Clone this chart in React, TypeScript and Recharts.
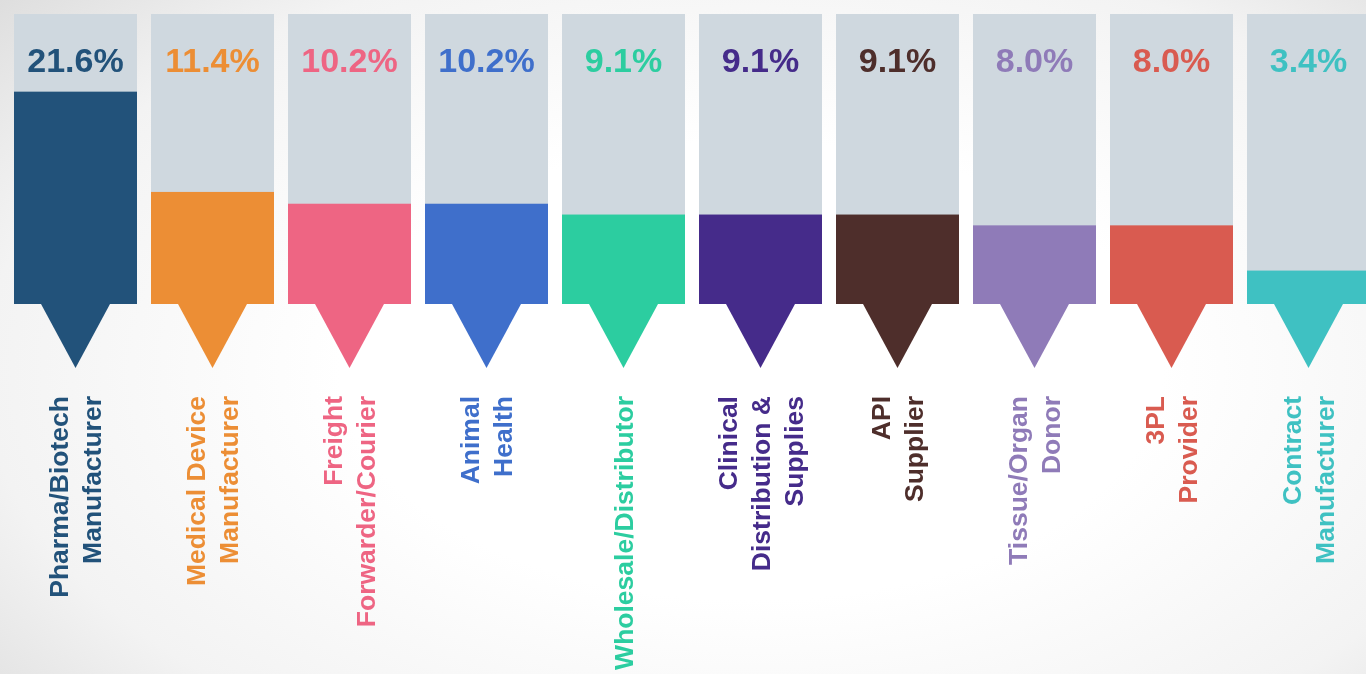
import { BarChart, Bar, XAxis, YAxis, Cell, LabelList } from "recharts"

const categories = [
  "Pharma/Biotech Manufacturer",
  "Medical Device Manufacturer",
  "Freight Forwarder/Courier",
  "Animal Health",
  "Wholesale/Distributor",
  "Clinical Distribution & Supplies",
  "API Supplier",
  "Tissue/Organ Donor",
  "3PL Provider",
  "Contract Manufacturer",
]

const labelLines = [
  ["Pharma/Biotech", "Manufacturer"],
  ["Medical Device", "Manufacturer"],
  ["Freight", "Forwarder/Courier"],
  ["Animal", "Health"],
  ["Wholesale/Distributor"],
  ["Clinical", "Distribution &", "Supplies"],
  ["API", "Supplier"],
  ["Tissue/Organ", "Donor"],
  ["3PL", "Provider"],
  ["Contract", "Manufacturer"],
]

const shares = [21.6, 11.4, 10.2, 10.2, 9.1, 9.1, 9.1, 8.0, 8.0, 3.4]

const colors = [
  "#22527a",
  "#ec8e35",
  "#ee6583",
  "#3f6fcb",
  "#2ccda0",
  "#452b8a",
  "#4e2e2b",
  "#8f7bb8",
  "#d95b50",
  "#3fc1c2",
]

const data = categories.map((name, i) => ({ name, value: shares[i] }))

const TOP = 14
const FONT = "'Liberation Sans', Arial, Helvetica, sans-serif"

// bar + the pointer triangle hanging under it
const PointerBar = (props: any) => {
  const { x, y, width, height, fill } = props
  const bottom = y + height
  const cx = x + width / 2
  const inset = 27
  return (
    <g>
      <rect x={x} y={y} width={width} height={height} fill={fill} />
      <polygon
        points={`${x + inset},${bottom} ${x + width - inset},${bottom} ${cx},${bottom + 64}`}
        fill={fill}
      />
    </g>
  )
}

const PercentLabel = (props: any) => {
  const { x, width, value, index } = props
  return (
    <text
      x={x + width / 2}
      y={TOP + 58}
      textAnchor="middle"
      fill={colors[index]}
      fontFamily={FONT}
      fontWeight="bold"
      fontSize={34}
    >
      {value.toFixed(1)}%
    </text>
  )
}

const CategoryTick = (props: any) => {
  const { x, index } = props
  const lines = labelLines[index]
  const spacing = 33
  const first = -((lines.length - 1) * spacing) / 2
  return (
    <g transform={`translate(${x},396) rotate(-90)`}>
      {lines.map((line, i) => (
        <text
          key={i}
          x={0}
          y={first + i * spacing + 9}
          textAnchor="end"
          fill={colors[index]}
          fontFamily={FONT}
          fontWeight="bold"
          fontSize={26.5}
        >
          {line}
        </text>
      ))}
    </g>
  )
}

export default function App() {
  return (
    <div
      style={{
        position: "fixed",
        left: 0,
        top: 0,
        width: 1366,
        height: 674,
        overflow: "hidden",
        background:
          "radial-gradient(ellipse 75% 85% at 55% 55%, #ffffff 40%, #f3f3f3 75%, #dcdcdc 100%)",
      }}
    >
      <BarChart
        width={1380}
        height={674}
        data={data}
        margin={{ top: TOP, right: 3, left: 7, bottom: 0 }}
        barCategoryGap={7}
      >
        <XAxis
          dataKey="name"
          interval={0}
          axisLine={false}
          tickLine={false}
          height={370}
          tick={<CategoryTick />}
        />
        <YAxis hide domain={[0, 29.5]} />
        <Bar
          dataKey="value"
          isAnimationActive={false}
          background={{ fill: "#cfd8df" }}
          shape={<PointerBar />}
        >
          {data.map((d, i) => (
            <Cell key={d.name} fill={colors[i]} />
          ))}
          <LabelList dataKey="value" content={<PercentLabel />} />
        </Bar>
      </BarChart>
    </div>
  )
}
